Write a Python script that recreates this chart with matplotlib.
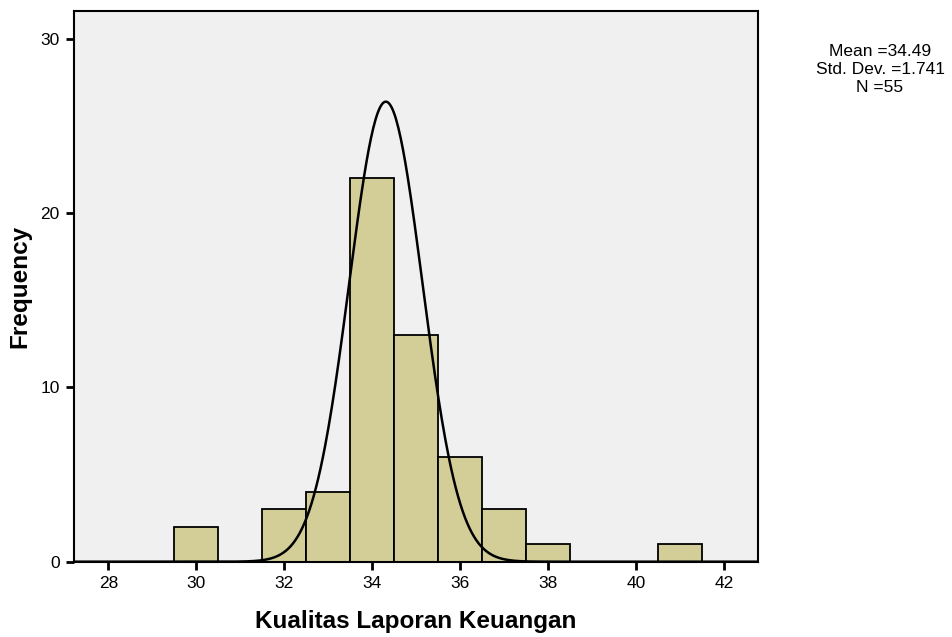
import numpy as np
import matplotlib
matplotlib.use("Agg")
import matplotlib.pyplot as plt

# ── dati ─────────────────────────────────────────────────────
bin_centers = [30, 32, 33, 34, 35, 36, 37, 38, 41]
frequencies = [2, 3, 4, 22, 13, 6, 3, 1, 1]
x_ticks = [28, 30, 32, 34, 36, 38, 40, 42]
y_ticks = [0, 10, 20, 30]

# curva normale come appare nel grafico
CURVE_MU = 34.31
CURVE_SD = 0.831
N_TOTAL = 55

stats_lines = ["Mean =34.49", "Std. Dev. =1.741", "N =55"]
# ────────────────────────────────────────────────────────────

plt.rcParams['font.family'] = ['Liberation Sans', 'DejaVu Sans']

fig = plt.figure(figsize=(9.52, 6.37), dpi=100)
ax = fig.add_axes([73.5 / 952, 1 - 561.7 / 637, (758 - 73.5) / 952, (561.7 - 11.3) / 637])
ax.set_facecolor("#F0F0F0")

ax.bar(bin_centers, frequencies, width=1.0, color="#D3CE98",
       edgecolor="black", linewidth=1.3, zorder=2)

xs = np.linspace(27.2, 42.8, 600)
curve = N_TOTAL * 1.0 / (CURVE_SD * np.sqrt(2 * np.pi)) * np.exp(-(xs - CURVE_MU) ** 2 / (2 * CURVE_SD ** 2))
ax.plot(xs, curve, color="black", lw=1.8, zorder=3)

ax.set_xlim(27.21, 42.77)
ax.set_ylim(0, 31.59)
ax.set_xticks(x_ticks)
ax.set_yticks(y_ticks)
ax.tick_params(axis="both", direction="out", length=6, width=2, labelsize=12.5, pad=4)
for s in ax.spines.values():
    s.set_linewidth(1.5)

ax.set_xlabel("Kualitas Laporan Keuangan", fontsize=17.5, fontweight="bold")
ax.set_ylabel("Frequency", fontsize=17.5, fontweight="bold")
ax.xaxis.set_label_coords(0.5, -0.088)
ax.yaxis.set_label_coords(-0.061, 0.5)

for i, line in enumerate(stats_lines):
    fig.text(880 / 952, 1 - (52 + i * 17.5) / 637, line, ha="center", va="center", fontsize=12.5)

fig.savefig("out.png", dpi=100)
